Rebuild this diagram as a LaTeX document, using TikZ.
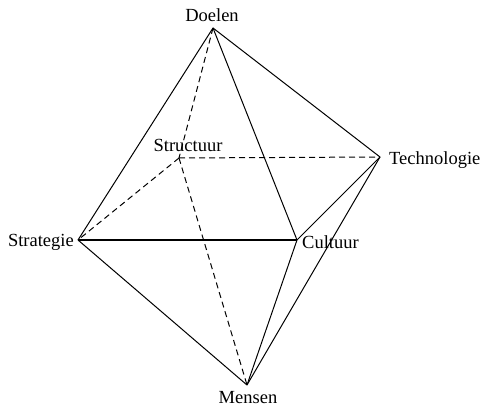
\documentclass[tikz,border=0pt]{standalone}
\usepackage{fontspec}
\setmainfont{Liberation Serif}
\usetikzlibrary{positioning}

\tikzset{
    vertex/.style={inner sep=0pt},
    tag/.style={font=\fontsize{18.5}{21}\selectfont, inner sep=0pt},
    edge/.style={draw=black, line width=1pt},
    hidden/.style={draw=black, line width=1pt, dash pattern=on 6pt off 4pt},
    base edge/.style={draw=black, line width=1.5pt}
}

\begin{document}
\begin{tikzpicture}[x=1pt, y=-1pt]
    \useasboundingbox (0,0) rectangle (482,406);

    % corners of the octahedron
    \coordinate (doelen) at (213,28);
    \coordinate (structuur) at (179,158);
    \coordinate (technologie) at (380,157);
    \coordinate (strategie) at (78,240);
    \coordinate (cultuur) at (297,240);
    \coordinate (mensen) at (247,385);

    % names
    \node[tag, anchor=base] (doelenlbl) at (212,22) {Doelen};
    \node[tag, anchor=base] (structuurlbl) at (188,152) {Structuur};
    \node[tag, anchor=base west] (technologielbl) at (389,165) {Technologie};
    \node[tag, anchor=base east] (strategielbl) at (74,247) {Strategie};
    \node[tag, anchor=base west] (cultuurlbl) at (302,248) {Cultuur};
    \node[tag, anchor=base] (menslbl) at (248,403) {Mensen};

    % back edges
    \draw[hidden] (doelen) -- (structuur);
    \draw[hidden] (structuur) -- (strategie);
    \draw[hidden] (structuur) -- (technologie);
    \draw[hidden] (structuur) -- (mensen);

    % front edges
    \draw[edge] (doelen) -- (strategie);
    \draw[edge] (doelen) -- (technologie);
    \draw[edge] (doelen) -- (cultuur);
    \draw[base edge] (strategie) -- (cultuur);
    \draw[edge] (strategie) -- (mensen);
    \draw[edge] (cultuur) -- (mensen);
    \draw[edge] (technologie) -- (cultuur);
    \draw[edge] (technologie) -- (mensen);
\end{tikzpicture}
\end{document}
